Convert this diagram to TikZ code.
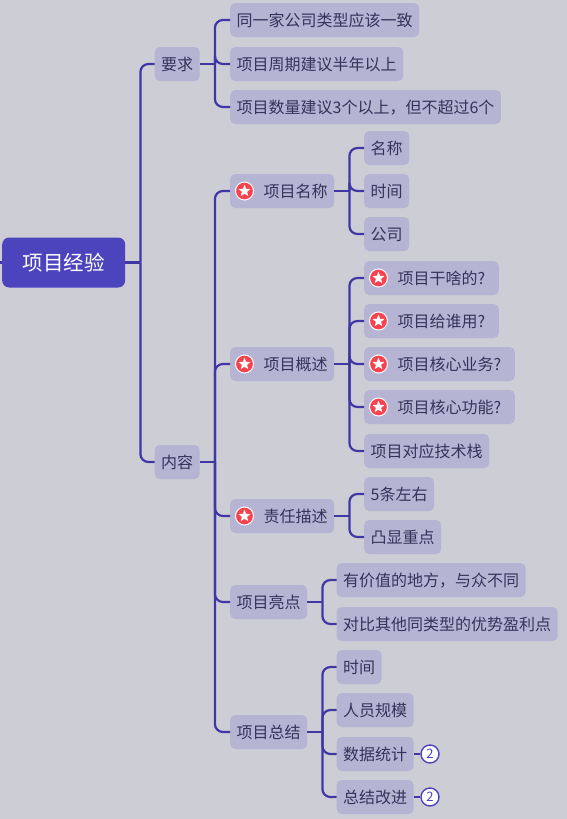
\documentclass[tikz,border=0pt]{standalone}
\usepackage{fontspec}
\setmainfont{Noto Sans CJK SC}
\usetikzlibrary{shapes.geometric,calc}
\definecolor{bgc}{HTML}{CDCDD6}
\definecolor{boxc}{HTML}{B5B4D3}
\definecolor{linec}{HTML}{3F37A3}
\definecolor{rootc}{HTML}{4C44BD}
\definecolor{textc}{HTML}{35335A}
\definecolor{redc}{HTML}{F8434F}
\tikzset{
  topic/.style={anchor=west,fill=boxc,text=textc,rounded corners=5pt,font=\fontsize{16pt}{18pt}\selectfont,
    inner xsep=6.5pt,inner ysep=0pt,text height=15pt,text depth=2.5pt,minimum height=34pt},
  roottopic/.style={anchor=west,fill=rootc,text=white,rounded corners=7pt,font=\fontsize{20.5pt}{22pt}\selectfont,
    minimum width=123pt,minimum height=50pt,inner sep=0pt},
  conn/.style={draw=linec,line width=2.2pt},
  badge/.style={circle,draw=rootc,fill=white,line width=1.4pt,minimum size=18pt,inner sep=0pt,text=rootc,
    font=\fontsize{13pt}{14pt}\selectfont},
  iconbg/.style={circle,fill=redc,draw=white,line width=1pt,minimum size=18pt,inner sep=0pt},
  iconstar/.style={star,star points=5,star point ratio=2.3,fill=white,minimum size=12.5pt,inner sep=0pt}
}
% parent, trunk offset, list of children
\newcommand{\linkup}[3]{%
  \draw[conn] (#1.east) -- ++(#2,0) coordinate (t#1);
  \foreach \c in {#3}{\draw[conn,rounded corners=8pt] (t#1) |- (\c.west);}
}
\newcommand{\staricon}[1]{%
  \node[iconbg] (i#1) at ($(#1.west)+(14.5,0)$) {};
  \node[iconstar] (s#1) at (i#1) {};
}
\newcommand{\gap}{\hspace*{27pt}}
\newcommand{\qm}{?\hspace*{7pt}}
\begin{document}
\begin{tikzpicture}[x=1pt,y=-1pt]
\useasboundingbox (0,0) rectangle (567,819);
\fill[bgc] (0,0) rectangle (567,819);
\node[roottopic] (root) at (2,262.5) {项目经验};
\coordinate (stub) at (0,262.5);
\draw[conn] (stub) -- (root.west);
\node[topic] (a) at (154.5,64) {要求};
\node[topic] (b) at (154.5,462) {内容};
\node[topic] (a1) at (230,20) {同一家公司类型应该一致};
\node[topic] (a2) at (230,64) {项目周期建议半年以上};
\node[topic] (a3) at (230,107) {项目数量建议3个以上，但不超过6个};
\node[topic] (c1) at (230,191) {\gap 项目名称};
\node[topic] (c2) at (230,364) {\gap 项目概述};
\node[topic] (c3) at (230,516) {\gap 责任描述};
\node[topic] (c4) at (230,602) {项目亮点};
\node[topic] (c5) at (230,732) {项目总结};
\node[topic] (d1) at (364,148) {名称};
\node[topic] (d2) at (364,191) {时间};
\node[topic] (d3) at (364,234) {公司};
\node[topic] (e1) at (364,278) {\gap 项目干啥的\qm};
\node[topic] (e2) at (364,321) {\gap 项目给谁用\qm};
\node[topic] (e3) at (364,364) {\gap 项目核心业务\qm};
\node[topic] (e4) at (364,407) {\gap 项目核心功能\qm};
\node[topic] (e5) at (364,451) {项目对应技术栈};
\node[topic] (f1) at (364,494) {5条左右};
\node[topic] (f2) at (364,537) {凸显重点};
\node[topic] (g1) at (336.5,580) {有价值的地方，与众不同};
\node[topic] (g2) at (336.5,624) {对比其他同类型的优势盈利点};
\node[topic] (h1) at (336.5,667) {时间};
\node[topic] (h2) at (336.5,710) {人员规模};
\node[topic] (h3) at (336.5,754) {数据统计};
\node[topic] (h4) at (336.5,797) {总结改进};
\foreach \n in {c1,c2,c3,e1,e2,e3,e4}{\staricon{\n}}
\node[badge] (n1) at (430,754) {2};
\node[badge] (n2) at (430,797) {2};
\linkup{root}{15}{a,b}
\linkup{a}{15}{a1,a2,a3}
\linkup{b}{15}{c1,c2,c3,c4,c5}
\linkup{c1}{15}{d1,d2,d3}
\linkup{c2}{15}{e1,e2,e3,e4,e5}
\linkup{c3}{15}{f1,f2}
\linkup{c4}{15}{g1,g2}
\linkup{c5}{15}{h1,h2,h3,h4}
\draw[conn] (h3.east) -- (n1.west);
\draw[conn] (h4.east) -- (n2.west);
\end{tikzpicture}
\end{document}
